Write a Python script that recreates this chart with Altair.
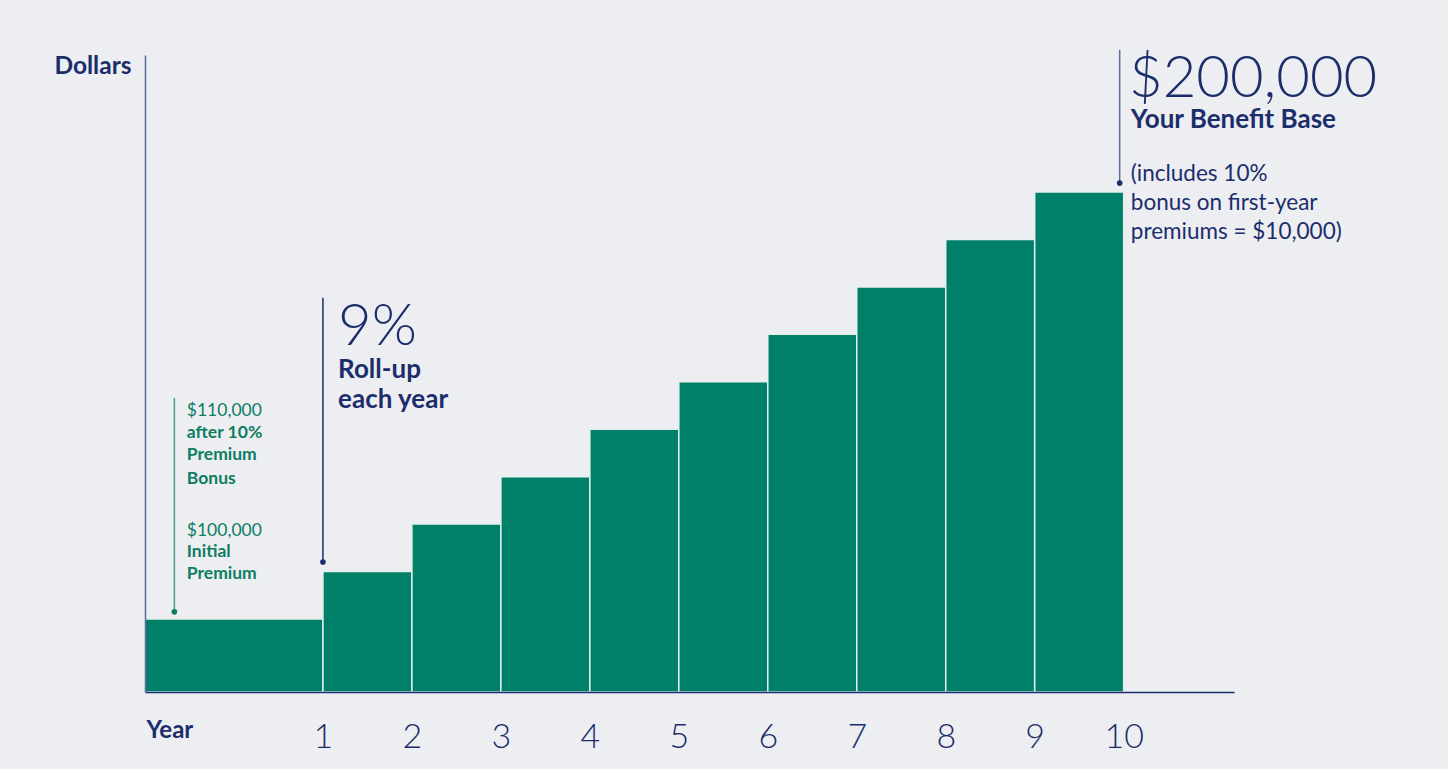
import altair as alt
import pandas as pd

# ---- data ----
YEAR_START = [-1, 1, 2, 3, 4, 5, 6, 7, 8, 9]
YEAR_END = [1, 2, 3, 4, 5, 6, 7, 8, 9, 10]
BENEFIT_BASE = [110000, 120000, 130000, 140000, 150000, 160000, 170000, 180000, 190000, 200000]
TICK_YEARS = [1, 2, 3, 4, 5, 6, 7, 8, 9, 10]

# annotation leader lines (x in years, y in dollars)
LEAD_X = [-0.67, 1.0, 9.955]
LEAD_TOP = [156600, 177700, 230000]
LEAD_BOT = [111500, 122000, 201900]
LEAD_COLOR = ["#3f9e82", "#1b2d6b", "#5d6c9c"]
DOT_COLOR = ["#0d7d62", "#1b2d6b", "#1b2d6b"]

# annotation text lines
TXT = ["$110,000", "after 10%", "Premium", "Bonus", "$100,000", "Initial", "Premium",
       "9%", "Roll-up", "each year",
       "$200,000", "Your Benefit Base", "(includes 10%", "bonus on first-year", "premiums = $10,000)"]
TXT_X = [-0.53, -0.53, -0.53, -0.53, -0.53, -0.53, -0.53,
         1.17, 1.17, 1.17,
         10.06, 10.08, 10.08, 10.08, 10.08]
TXT_Y = [152800, 148200, 143500, 138500, 127500, 123100, 118500,
         167800, 160800, 154500,
         220000, 213500, 202300, 196200, 190100]
TXT_STYLE = ["gamt", "glbl", "glbl", "glbl", "gamt", "glbl", "glbl",
             "big", "sub", "sub",
             "big", "sub", "note", "note", "note"]

NAVY = "#1b2d6b"
GREEN = "#008068"
GREEN_TXT = "#0d7d62"
BG = "#edeef2"
FONT = "Lato"
Y_MIN, Y_MAX = 94600, 228900
X_MIN, X_MAX = -1, 11.24

bars = pd.DataFrame({"start": YEAR_START, "end": YEAR_END, "value": BENEFIT_BASE})
leads = pd.DataFrame({"x": LEAD_X, "top": LEAD_TOP, "bot": LEAD_BOT,
                      "lc": LEAD_COLOR, "dc": DOT_COLOR})
texts = pd.DataFrame({"x": TXT_X, "y": TXT_Y, "text": TXT, "style": TXT_STYLE})

xscale = alt.Scale(domain=[X_MIN, X_MAX], nice=False, zero=False)
yscale = alt.Scale(domain=[Y_MIN, Y_MAX], nice=False, zero=False)

bar_layer = alt.Chart(bars).mark_rect(
    color=GREEN, stroke="#e6efec", strokeWidth=1.5
).encode(
    x=alt.X("start:Q", scale=xscale,
            axis=alt.Axis(values=TICK_YEARS, format="d", title="Year", grid=False, ticks=False,
                          domainColor=NAVY, domainWidth=1.5, zindex=2,
                          labelFont=FONT, labelFontSize=34, labelFontWeight=300,
                          labelColor=NAVY, labelBaseline="alphabetic", labelPadding=55,
                          labelFlush=False, labelOverlap=False,
                          titleFont=FONT, titleFontSize=24, titleFontWeight="bold",
                          titleColor=NAVY, titleAlign="left", titleAnchor="start",
                          titleBaseline="alphabetic", titleX=1, titleY=45)),
    x2="end:Q",
    y=alt.Y("value:Q", scale=yscale,
            axis=alt.Axis(title="Dollars", grid=False, ticks=False, labels=False,
                          domainColor="#5d6c9c", domainWidth=1.5, zindex=2,
                          titleFont=FONT, titleFontSize=24.5, titleFontWeight="bold",
                          titleColor=NAVY, titleAngle=0, titleAlign="right",
                          titleBaseline="alphabetic", titleX=-14, titleY=18)),
    y2=alt.datum(Y_MIN),
)

lead_layer = alt.Chart(leads).mark_rule(strokeWidth=1.5).encode(
    x=alt.X("x:Q", scale=xscale),
    y=alt.Y("top:Q", scale=yscale),
    y2="bot:Q",
    color=alt.Color("lc:N", scale=None),
)

dot_layer = alt.Chart(leads).mark_circle(size=32, opacity=1).encode(
    x=alt.X("x:Q", scale=xscale),
    y=alt.Y("bot:Q", scale=yscale),
    color=alt.Color("dc:N", scale=None),
)

STYLES = {
    "big": dict(fontSize=58, fontWeight=300, color=NAVY),
    "sub": dict(fontSize=26, fontWeight="bold", color=NAVY),
    "note": dict(fontSize=22.5, fontWeight=400, color=NAVY),
    "gamt": dict(fontSize=17.5, fontWeight=400, color=GREEN_TXT),
    "glbl": dict(fontSize=17.5, fontWeight="bold", color=GREEN_TXT),
}

text_layers = []
for name, st in STYLES.items():
    text_layers.append(
        alt.Chart(texts).transform_filter(alt.datum.style == name).mark_text(
            align="left", baseline="alphabetic", font=FONT, **st
        ).encode(
            x=alt.X("x:Q", scale=xscale),
            y=alt.Y("y:Q", scale=yscale),
            text="text:N",
        )
    )

chart = alt.layer(bar_layer, lead_layer, dot_layer, *text_layers).properties(
    width=1089, height=637,
    background=BG,
    padding={"left": 145, "top": 55, "right": 214, "bottom": 77},
    autosize=alt.AutoSizeParams(type="none"),
).configure_view(stroke=None)

chart.save("out.html", embed_options={"renderer": "svg", "actions": False})
